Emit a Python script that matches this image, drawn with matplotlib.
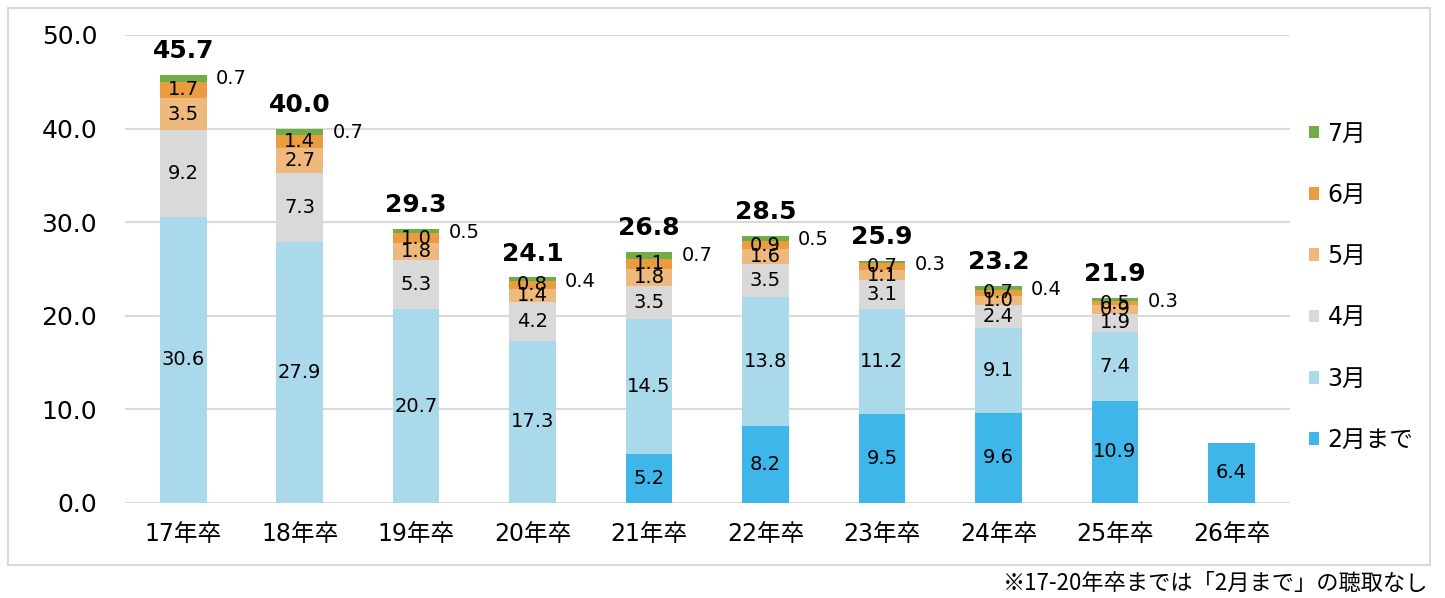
import matplotlib.pyplot as plt
from matplotlib.patches import Rectangle
import numpy as np

plt.rcParams['font.family'] = ['DejaVu Sans', 'Noto Sans CJK JP']

years = ["17年卒", "18年卒", "19年卒", "20年卒", "21年卒", "22年卒", "23年卒", "24年卒", "25年卒", "26年卒"]
series_names = ["2月まで", "3月", "4月", "5月", "6月", "7月"]
feb = [0, 0, 0, 0, 5.2, 8.2, 9.5, 9.6, 10.9, 6.4]
mar = [30.6, 27.9, 20.7, 17.3, 14.5, 13.8, 11.2, 9.1, 7.4, 0]
apr = [9.2, 7.3, 5.3, 4.2, 3.5, 3.5, 3.1, 2.4, 1.9, 0]
may = [3.5, 2.7, 1.8, 1.4, 1.8, 1.6, 1.1, 1.0, 0.9, 0]
jun = [1.7, 1.4, 1.0, 0.8, 1.1, 0.9, 0.7, 0.7, 0.5, 0]
jul = [0.7, 0.7, 0.5, 0.4, 0.7, 0.5, 0.3, 0.4, 0.3, 0]
totals = [45.7, 40.0, 29.3, 24.1, 26.8, 28.5, 25.9, 23.2, 21.9, None]

colors = ["#3FB6E9", "#A9D9EB", "#D9D9D9", "#EEB97C", "#EB9B40", "#70AD47"]

fig = plt.figure(figsize=(14.45, 5.98), dpi=100)
ax = fig.add_axes([0.0865, 0.159, 0.806, 0.7825])

x = np.arange(len(years))
w = 0.4
bottom = np.zeros(len(years))
handles = []
for vals, name, c in zip([feb, mar, apr, may, jun, jul], series_names, colors):
    v = np.array(vals, dtype=float)
    b = ax.bar(x, v, w, bottom=bottom, color=c, label=name, zorder=3)
    handles.append(b)
    for i in range(len(years)):
        if v[i] <= 0:
            continue
        if name == "7月":
            ax.text(x[i] + w / 2 + 0.08, bottom[i] + v[i] - 0.4, f"{v[i]:.1f}",
                    ha="left", va="center", fontsize=14, zorder=5)
        else:
            ax.text(x[i], bottom[i] + v[i] / 2, f"{v[i]:.1f}",
                    ha="center", va="center", fontsize=14, zorder=5)
    bottom += v

for i, t in enumerate(totals):
    if t is None:
        continue
    ax.text(x[i], t + 1.8, f"{t:.1f}", ha="center", va="baseline",
            fontsize=18, fontweight="bold", zorder=5)

ax.set_xlim(-0.5, 9.5)
ax.set_ylim(0, 50)
ax.set_yticks(np.arange(0, 51, 10))
ax.set_yticklabels([f"{v:.1f}" for v in np.arange(0, 51, 10)], fontsize=18)
ax.set_xticks(x)
ax.set_xticklabels(years, fontsize=17)
ax.tick_params(axis="y", length=0, pad=20)
ax.tick_params(axis="x", length=0, pad=14)
ax.grid(axis="y", color="#D9D9D9", linewidth=1.5, zorder=0)
for s in ax.spines.values():
    s.set_visible(False)

ax.legend(handles[::-1], series_names[::-1], loc="center left",
          bbox_to_anchor=(0.998, 0.462), frameon=False, fontsize=17,
          handlelength=0.45, handleheight=0.45, labelspacing=1.58, handletextpad=0.35)

fig.patches.append(Rectangle((8 / 1445, 1 - 565 / 598), 1422 / 1445, 557 / 598,
                             transform=fig.transFigure, fill=False,
                             edgecolor="#D9D9D9", linewidth=1.5))
fig.text(1428 / 1445, 1 - 583 / 598, "※17-20年卒までは「2月まで」の聴取なし",
         ha="right", va="center", fontsize=16, family=["Noto Sans CJK JP"])

fig.savefig("out.png", dpi=100)
